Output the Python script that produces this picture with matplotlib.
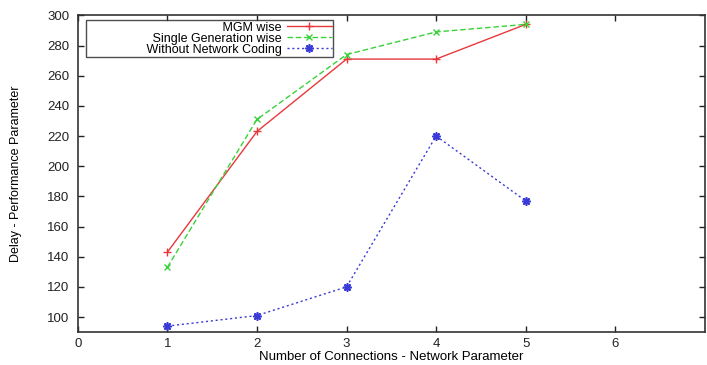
import matplotlib
matplotlib.use("Agg")
import matplotlib.pyplot as plt

connections = [1, 2, 3, 4, 5]
mgm_wise = [143, 223, 271, 271, 294]
single_gen = [133, 231, 274, 289, 294]
without_nc = [94, 101, 120, 220, 177]

plt.rcParams['font.family'] = ['Liberation Sans', 'DejaVu Sans']

fig = plt.figure(figsize=(7.07, 3.65), dpi=100)
ax = fig.add_axes([0.110, 0.090, 0.887, 0.868])

ax.plot(connections, mgm_wise, color='#e8383d', lw=1.0, ls='-', marker='+',
        ms=6, mew=1.0, label='MGM wise')
ax.plot(connections, single_gen, color='#39d239', lw=1.0, ls=(0, (4, 2)), marker='x',
        ms=5, mew=1.0, label='Single Generation wise')
ax.plot(connections, without_nc, color='#3a3ad8', lw=1.0, ls=(0, (1.5, 2)), marker=(8, 2, 0),
        ms=6, mew=1.2, label='Without Network Coding')

ax.set_xlim(0, 7)
ax.set_ylim(90, 300)
ax.set_xticks(range(0, 7))
ax.set_yticks(range(100, 301, 20))
ax.tick_params(direction='in', top=True, right=True, length=4, width=1,
               labelsize=9.5, colors='#222222', pad=4)
ax.tick_params(axis='y', pad=6)
for s in ax.spines.values():
    s.set_linewidth(1.2)
    s.set_color('#333333')

ax.set_xlabel('Number of Connections - Network Parameter', fontsize=9.5, labelpad=1)
ax.set_ylabel('Delay - Performance Parameter', fontsize=9, labelpad=18)

pad = ' ' * 17
leg = ax.legend(loc='upper left', bbox_to_anchor=(0.0128, 0.984), markerfirst=False,
                fontsize=9, frameon=True, fancybox=False, handlelength=3.6,
                borderpad=0.1, labelspacing=-0.08, handletextpad=0.4,
                borderaxespad=0.0)
for t in leg.get_texts():
    t.set_text(pad + t.get_text())
leg.get_frame().set_edgecolor('#222222')
leg.get_frame().set_linewidth(1.0)

fig.savefig('out.png', dpi=100)
